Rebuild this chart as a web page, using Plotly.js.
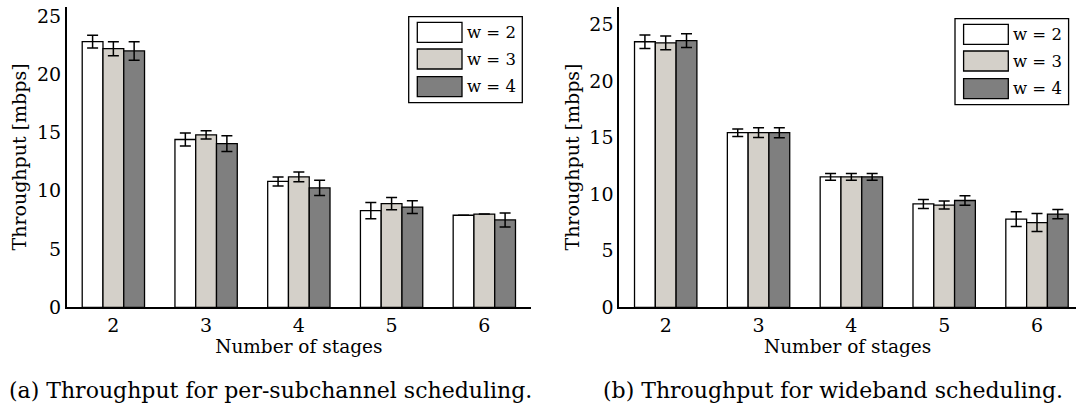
<!DOCTYPE html>
<html>
<head>
<meta charset="utf-8">
<script src="https://cdn.plot.ly/plotly-3.0.1.min.js"></script>
<style>html,body{margin:0;padding:0;background:#fff;}#chart{width:1076px;height:410px;}</style>
</head>
<body>
<div id="chart"></div>
<script>
// ---- data ----
var stages = [2, 3, 4, 5, 6];
var seriesNames = ["w = 2", "w = 3", "w = 4"];
// (a) per-subchannel scheduling
var perSub_w2 = [22.8, 14.4, 10.8, 8.3, 7.9];
var perSub_w3 = [22.2, 14.8, 11.2, 8.9, 8.0];
var perSub_w4 = [22.0, 14.05, 10.25, 8.6, 7.5];
var perSubErr_w2 = [0.55, 0.55, 0.38, 0.7, 0];
var perSubErr_w3 = [0.6, 0.35, 0.42, 0.53, 0];
var perSubErr_w4 = [0.8, 0.67, 0.65, 0.55, 0.6];
// (b) wideband scheduling
var wide_w2 = [23.5, 15.45, 11.55, 9.15, 7.8];
var wide_w3 = [23.4, 15.45, 11.55, 9.05, 7.5];
var wide_w4 = [23.6, 15.45, 11.55, 9.45, 8.25];
var wideErr_w2 = [0.6, 0.33, 0.3, 0.4, 0.65];
var wideErr_w3 = [0.6, 0.43, 0.3, 0.35, 0.8];
var wideErr_w4 = [0.6, 0.44, 0.3, 0.42, 0.41];
var yTicks = [0, 5, 10, 15, 20, 25];
var xTitle = "Number of stages";
var yTitle = "Throughput [mbps]";
var captionA = "(a) Throughput for per-subchannel scheduling.";
var captionB = "(b) Throughput for wideband scheduling.";

// ---- style ----
var colors = ["#ffffff", "#d4d0c9", "#7f7f7f"];
var FONT = "DejaVu Serif";
var W = 1076, H = 410;
function px(x){ return x / W; }
function py(y){ return 1 - y / H; }

function bar(xa, ya, vals, errs, i){
  return {
    type: "bar", x: stages, y: vals, xaxis: xa, yaxis: ya,
    name: seriesNames[i], showlegend: false,
    marker: {color: colors[i], line: {color: "#000", width: 1.3}},
    error_y: {type: "data", array: errs, visible: true, color: "#000", thickness: 1.5, width: 5.5},
    hoverinfo: "skip"
  };
}
var data = [
  bar("x", "y", perSub_w2, perSubErr_w2, 0),
  bar("x", "y", perSub_w3, perSubErr_w3, 1),
  bar("x", "y", perSub_w4, perSubErr_w4, 2),
  bar("x2", "y2", wide_w2, wideErr_w2, 0),
  bar("x2", "y2", wide_w3, wideErr_w3, 1),
  bar("x2", "y2", wide_w4, wideErr_w4, 2)
];
function xaxis(dom, rng, anchor){
  return {
    domain: dom, range: rng, anchor: anchor, tickvals: stages, ticktext: stages.map(String),
    showline: true, linecolor: "#000", linewidth: 2, ticks: "", showgrid: false, zeroline: false,
    tickfont: {family: FONT, size: 19, color: "#000"}, ticklabelstandoff: 0,
    title: {text: xTitle, font: {family: FONT, size: 18.5, color: "#000"}, standoff: 0},
    automargin: false, fixedrange: true
  };
}
function yaxis(dom, rng, anchor){
  return {
    domain: dom, range: rng, anchor: anchor, tickvals: yTicks,
    showline: true, linecolor: "#000", linewidth: 2, ticks: "", showgrid: false, zeroline: false,
    tickfont: {family: FONT, size: 19, color: "#000"}, ticklabelstandoff: 0,
    title: {text: yTitle, font: {family: FONT, size: 19, color: "#000"}, standoff: 5},
    automargin: false, fixedrange: true
  };
}
var shapes = [], annotations = [];
function legend(bx, by){
  var rows = [5.6, 32.3, 60];
  shapes.push({type: "rect", xref: "paper", yref: "paper",
    x0: px(bx), x1: px(bx + 113.6), y0: py(by), y1: py(by + 86), line: {color: "#000", width: 1.3}, fillcolor: "rgba(0,0,0,0)"});
  for (var i = 0; i < 3; i++){
    var t = by + rows[i];
    shapes.push({type: "rect", xref: "paper", yref: "paper",
      x0: px(bx + 8.6), x1: px(bx + 53.3), y0: py(t), y1: py(t + 20),
      line: {color: "#000", width: 1.3}, fillcolor: colors[i]});
    annotations.push({xref: "paper", yref: "paper", x: px(bx + 56), y: py(t + 10),
      xanchor: "left", yanchor: "middle", showarrow: false, text: seriesNames[i],
      font: {family: FONT, size: 16.5, color: "#000"}});
  }
}
legend(408.7, 16.7);
legend(955, 18.7);
annotations.push({xref: "paper", yref: "paper", x: px(270), y: py(390), xanchor: "center", yanchor: "middle",
  showarrow: false, text: captionA, font: {family: FONT, size: 22, color: "#000"}});
annotations.push({xref: "paper", yref: "paper", x: px(833), y: py(390), xanchor: "center", yanchor: "middle",
  showarrow: false, text: captionB, font: {family: FONT, size: 22, color: "#000"}});
var layout = {
  width: W, height: H, margin: {l: 0, r: 0, t: 0, b: 0},
  paper_bgcolor: "#fff", plot_bgcolor: "#fff",
  barmode: "group", bargap: 0.328, bargroupgap: 0,
  showlegend: false,
  xaxis: xaxis([px(67), px(530.7)], [1.5, 6.5], "y"),
  yaxis: yaxis([py(307.3), py(6.7)], [0, 25.8], "x"),
  xaxis2: xaxis([px(619.3), 1], [1.5, 6.42], "y2"),
  yaxis2: yaxis([py(307.3), py(6.7)], [0, 26.6], "x2"),
  shapes: shapes, annotations: annotations,
  font: {family: FONT, color: "#000"}
};
Plotly.newPlot("chart", data, layout, {displayModeBar: false, staticPlot: true});
</script>
</body>
</html>
